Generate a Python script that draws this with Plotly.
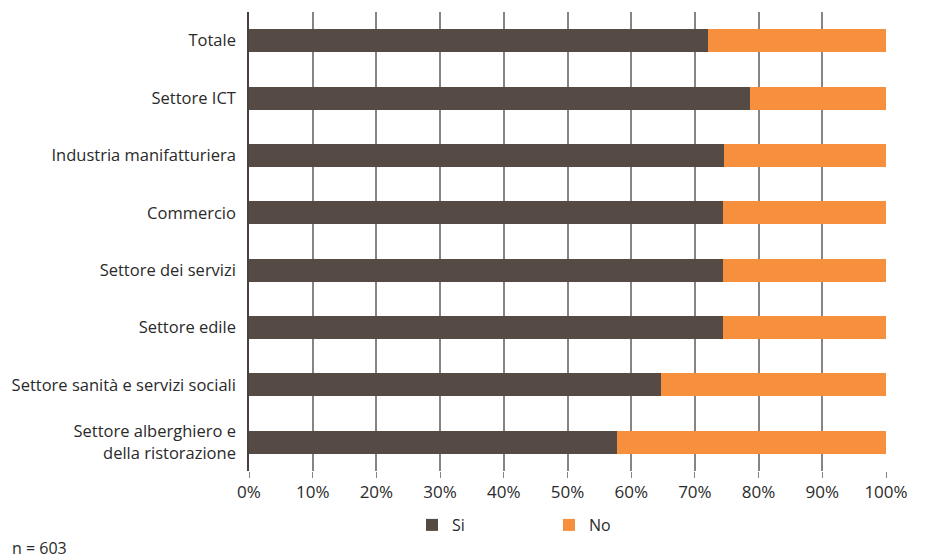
import plotly.graph_objects as go

categories = ["Totale", "Settore ICT", "Industria manifatturiera", "Commercio",
              "Settore dei servizi", "Settore edile",
              "Settore sanità e servizi sociali",
              "Settore alberghiero e<br>della ristorazione"]
si_values = [72.0, 78.6, 74.5, 74.4, 74.4, 74.4, 64.6, 57.8]
no_values = [round(100 - v, 1) for v in si_values]
tick_vals = [0, 10, 20, 30, 40, 50, 60, 70, 80, 90, 100]
tick_text = [f"{v}%" for v in tick_vals]

FONT = "Open Sans"
fig = go.Figure()
fig.add_trace(go.Bar(y=categories, x=si_values, name="Si", orientation="h",
                     marker=dict(color="#564a45", line=dict(width=0))))
fig.add_trace(go.Bar(y=categories, x=no_values, name="No", orientation="h",
                     marker=dict(color="#f6903d", line=dict(width=0))))

W_PLOT = 637
H_PLOT = 459
fig.update_layout(
    width=928, height=558,
    barmode="stack", bargap=0.6,
    plot_bgcolor="white", paper_bgcolor="white",
    margin=dict(l=249, r=42, t=12, b=87, autoexpand=False),
    font=dict(family=FONT, size=16, color="#2a2a2a"),
    legend=dict(orientation="h", x=(412 - 249) / W_PLOT, xanchor="left",
                y=(471 - 525) / H_PLOT, yanchor="middle",
                font=dict(size=16), traceorder="normal", itemwidth=30,
                entrywidth=92, entrywidthmode="pixels"),
    showlegend=True,
)
fig.update_xaxes(range=[0, 100], tickvals=tick_vals, ticktext=tick_text,
                 showgrid=True, gridcolor="#8a8383", gridwidth=1.5,
                 ticks="outside", ticklen=6, tickcolor="#8a8383",
                 tickfont=dict(size=17), zeroline=False, fixedrange=True)
fig.update_yaxes(autorange="reversed", showline=True, linecolor="#4a4040", linewidth=1.5,
                 ticks="", ticklabelstandoff=8, tickfont=dict(size=16.5))
fig.add_annotation(text="n = 603", xref="paper", yref="paper",
                   x=(10 - 249) / W_PLOT, y=(471 - 548) / H_PLOT,
                   xanchor="left", yanchor="middle", showarrow=False,
                   font=dict(size=16, color="#2a2a2a"))
fig.write_html("out.html")
